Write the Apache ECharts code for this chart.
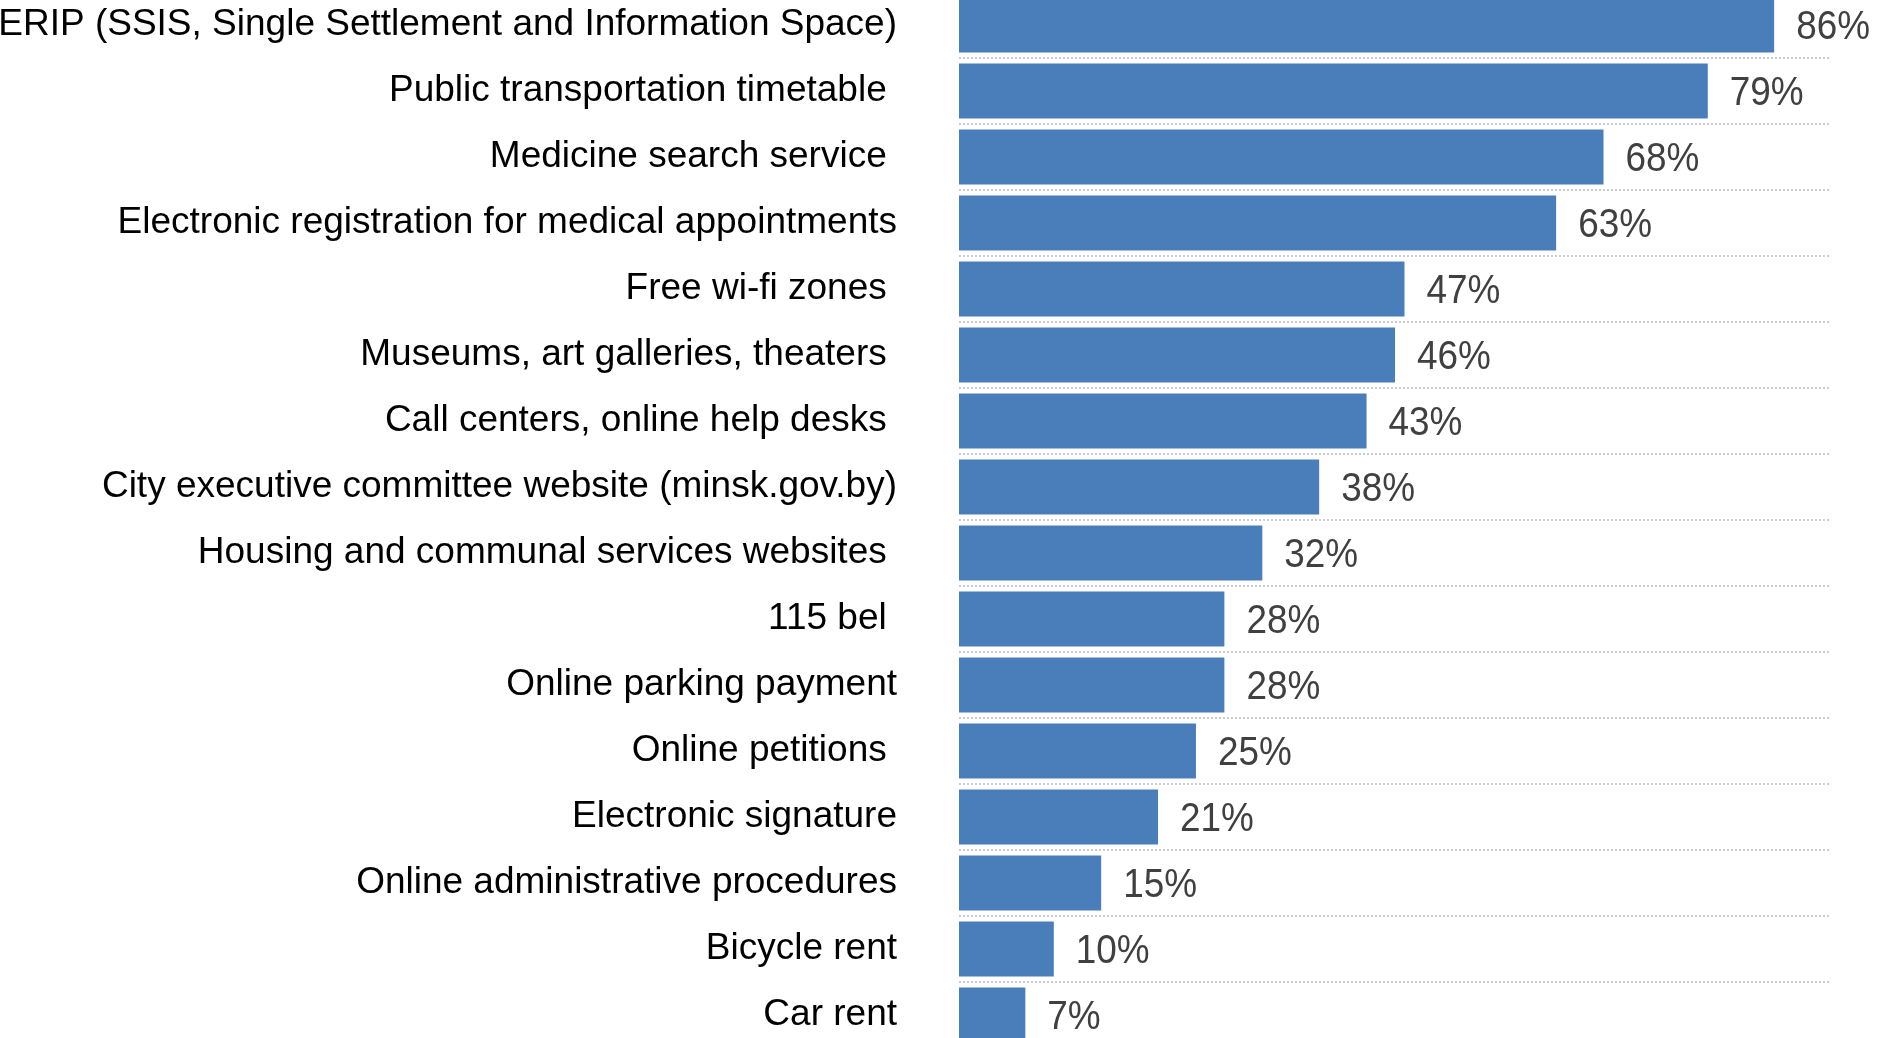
<!DOCTYPE html>
<html>
<head>
<meta charset="utf-8">
<script src="https://cdn.jsdelivr.net/npm/echarts@6/dist/echarts.min.js"></script>
<style>
  html, body { margin: 0; padding: 0; background: #ffffff; }
  #chart { width: 1893px; height: 1038px; }
</style>
</head>
<body>
<div id="chart"></div>
<script>
const categories = [
  "ERIP (SSIS, Single Settlement and Information Space)",
  "Public transportation timetable ",
  "Medicine search service ",
  "Electronic registration for medical appointments",
  "Free wi-fi zones ",
  "Museums, art galleries, theaters ",
  "Call centers, online help desks ",
  "City executive committee website (minsk.gov.by)",
  "Housing and communal services websites ",
  "115 bel ",
  "Online parking payment",
  "Online petitions ",
  "Electronic signature",
  "Online administrative procedures",
  "Bicycle rent",
  "Car rent"
];
const values = [86, 79, 68, 63, 47, 46, 43, 38, 32, 28, 28, 25, 21, 15, 10, 7];

const chart = echarts.init(document.getElementById('chart'), null, { renderer: 'canvas' });
chart.setOption({
  backgroundColor: '#ffffff',
  animation: false,
  grid: {
    left: 959,
    top: -8,
    width: 872,
    height: 1056,
    containLabel: false,
    outerBoundsMode: 'none'
  },
  xAxis: {
    type: 'value',
    min: 0,
    max: 92,
    show: false
  },
  yAxis: {
    type: 'category',
    inverse: true,
    data: categories,
    axisLine: { show: false },
    axisTick: { show: false },
    axisLabel: {
      interval: 0,
      margin: 62,
      color: '#000000',
      fontSize: 37,
      fontFamily: '"Liberation Sans", Arial, sans-serif'
    },
    splitLine: {
      show: true,
      interval: 0,
      lineStyle: { color: '#bcbcbc', width: 1.5, type: [2, 2] }
    }
  },
  series: [{
    type: 'bar',
    data: values,
    barWidth: 55,
    itemStyle: { color: '#4a7ebb' }
  }, {
    type: 'custom',
    data: values.map((v, i) => [v, i]),
    encode: { x: 0, y: 1 },
    silent: true,
    z: 5,
    renderItem: function (params, api) {
      const p = api.coord([api.value(0), api.value(1)]);
      return {
        type: 'text',
        x: p[0] + 22,
        y: p[1] + 3,
        scaleX: 0.9,
        style: {
          text: api.value(0) + '%',
          fill: '#404040',
          font: '41px "Liberation Sans", Arial, sans-serif',
          align: 'left',
          verticalAlign: 'middle'
        }
      };
    }
  }]
});
</script>
</body>
</html>
